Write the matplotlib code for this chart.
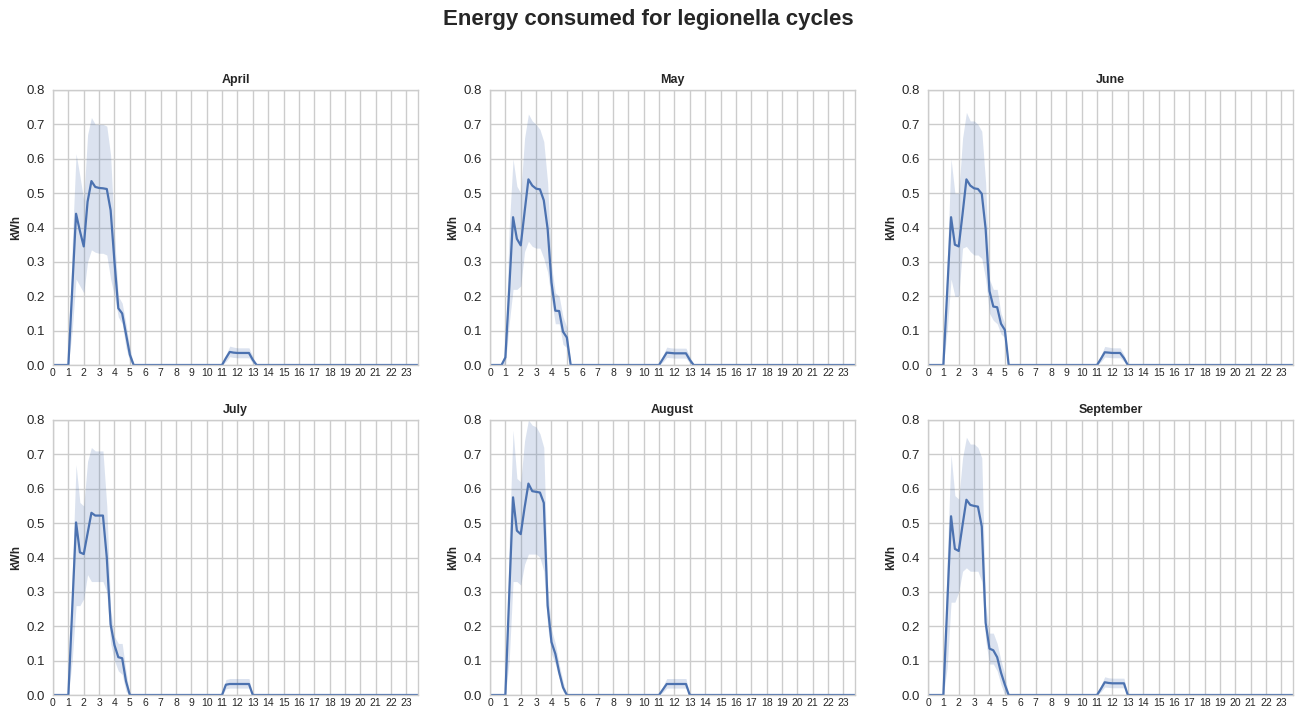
import numpy as np
import matplotlib
matplotlib.use("Agg")
import matplotlib.pyplot as plt
import seaborn as sns

sns.set_style("whitegrid")
plt.rcParams['font.family'] = ['Liberation Sans', 'DejaVu Sans']

months = ["April", "May", "June", "July", "August", "September"]
hour_ticks = list(range(24))
y_ticks = [0.0, 0.1, 0.2, 0.3, 0.4, 0.5, 0.6, 0.7, 0.8]
day_end = 23.75

morning_hours = [0.75, 1.0, 1.25, 1.5, 1.75, 2.0, 2.25, 2.5, 2.75, 3.0,
                 3.25, 3.5, 3.75, 4.0, 4.25, 4.5, 4.75, 5.0, 5.25]
noon_hours = [11.0, 11.25, 11.5, 11.75, 12.0, 12.25, 12.5, 12.75, 13.0, 13.25]

# mean energy (kWh) and confidence band, morning legionella cycle
april_mean = [0, 0, 0.22, 0.44, 0.39, 0.345, 0.475, 0.535, 0.518, 0.515, 0.514, 0.512, 0.45, 0.30, 0.165, 0.15, 0.09, 0.03, 0]
april_lo   = [0, 0, 0.10, 0.25, 0.23, 0.21, 0.30, 0.335, 0.328, 0.325, 0.325, 0.32, 0.25, 0.20, 0.14, 0.12, 0.05, 0.01, 0]
april_hi   = [0, 0, 0.35, 0.615, 0.55, 0.48, 0.67, 0.72, 0.70, 0.70, 0.70, 0.695, 0.61, 0.38, 0.20, 0.18, 0.12, 0.05, 0]

may_mean = [0, 0.022, 0.22, 0.43, 0.367, 0.348, 0.445, 0.54, 0.522, 0.513, 0.511, 0.479, 0.396, 0.24, 0.158, 0.157, 0.097, 0.08, 0]
may_lo   = [0, 0, 0.12, 0.22, 0.22, 0.23, 0.33, 0.36, 0.345, 0.34, 0.34, 0.31, 0.27, 0.19, 0.12, 0.12, 0.06, 0.05, 0]
may_hi   = [0, 0.04, 0.40, 0.60, 0.52, 0.50, 0.66, 0.73, 0.71, 0.70, 0.685, 0.65, 0.53, 0.29, 0.21, 0.20, 0.14, 0.11, 0]

june_mean = [0, 0, 0.215, 0.43, 0.35, 0.345, 0.44, 0.54, 0.522, 0.514, 0.512, 0.498, 0.396, 0.215, 0.17, 0.168, 0.12, 0.102, 0]
june_lo   = [0, 0, 0.10, 0.25, 0.20, 0.20, 0.34, 0.345, 0.33, 0.32, 0.32, 0.31, 0.25, 0.15, 0.13, 0.12, 0.09, 0.08, 0]
june_hi   = [0, 0, 0.30, 0.60, 0.50, 0.50, 0.66, 0.735, 0.71, 0.71, 0.70, 0.68, 0.53, 0.25, 0.22, 0.22, 0.15, 0.12, 0]

july_mean = [0, 0, 0.25, 0.502, 0.415, 0.41, 0.47, 0.53, 0.522, 0.522, 0.522, 0.40, 0.205, 0.145, 0.11, 0.107, 0.04, 0, 0]
july_lo   = [0, 0, 0.10, 0.26, 0.26, 0.28, 0.35, 0.33, 0.33, 0.33, 0.33, 0.30, 0.15, 0.10, 0.07, 0.06, 0.01, 0, 0]
july_hi   = [0, 0, 0.35, 0.67, 0.56, 0.55, 0.68, 0.72, 0.71, 0.71, 0.71, 0.55, 0.25, 0.17, 0.15, 0.15, 0.07, 0, 0]

august_mean = [0, 0, 0.29, 0.575, 0.478, 0.468, 0.545, 0.615, 0.593, 0.591, 0.589, 0.559, 0.26, 0.154, 0.12, 0.066, 0.022, 0, 0]
august_lo   = [0, 0, 0.10, 0.33, 0.33, 0.32, 0.38, 0.41, 0.41, 0.41, 0.40, 0.36, 0.20, 0.12, 0.09, 0.05, 0.01, 0, 0]
august_hi   = [0, 0, 0.45, 0.77, 0.63, 0.62, 0.74, 0.80, 0.785, 0.78, 0.76, 0.72, 0.32, 0.19, 0.15, 0.09, 0.04, 0, 0]

september_mean = [0, 0, 0.26, 0.52, 0.425, 0.419, 0.495, 0.568, 0.553, 0.55, 0.548, 0.49, 0.21, 0.135, 0.13, 0.11, 0.065, 0.03, 0]
september_lo   = [0, 0, 0.08, 0.27, 0.27, 0.30, 0.36, 0.37, 0.36, 0.36, 0.36, 0.33, 0.16, 0.09, 0.09, 0.07, 0.03, 0.0, 0]
september_hi   = [0, 0, 0.40, 0.70, 0.58, 0.57, 0.69, 0.75, 0.73, 0.73, 0.72, 0.69, 0.26, 0.18, 0.18, 0.15, 0.10, 0.06, 0]

# midday cycle
april_noon_mean = [0, 0.02, 0.038, 0.036, 0.035, 0.035, 0.035, 0.035, 0.015, 0]
may_noon_mean   = [0, 0.018, 0.036, 0.035, 0.034, 0.034, 0.034, 0.034, 0.015, 0]
june_noon_mean  = [0, 0.018, 0.037, 0.036, 0.035, 0.035, 0.035, 0.02, 0, 0]
july_noon_mean  = [0, 0.03, 0.032, 0.032, 0.032, 0.032, 0.032, 0.032, 0, 0]
august_noon_mean = [0, 0.016, 0.032, 0.032, 0.032, 0.032, 0.032, 0.032, 0, 0]
september_noon_mean = [0, 0.018, 0.037, 0.035, 0.034, 0.034, 0.034, 0.034, 0, 0]

april_noon_lo = [0, 0.01, 0.024, 0.022, 0.021, 0.021, 0.021, 0.021, 0.005, 0]
may_noon_lo   = [0, 0.009, 0.022, 0.021, 0.02, 0.02, 0.02, 0.02, 0.005, 0]
june_noon_lo  = [0, 0.009, 0.023, 0.022, 0.021, 0.021, 0.021, 0.01, 0, 0]
july_noon_lo  = [0, 0.018, 0.02, 0.02, 0.02, 0.02, 0.02, 0.02, 0, 0]
august_noon_lo = [0, 0.008, 0.02, 0.02, 0.02, 0.02, 0.02, 0.02, 0, 0]
september_noon_lo = [0, 0.009, 0.023, 0.022, 0.021, 0.021, 0.021, 0.021, 0, 0]

april_noon_hi = [0, 0.03, 0.055, 0.052, 0.05, 0.05, 0.05, 0.05, 0.025, 0]
may_noon_hi   = [0, 0.028, 0.052, 0.05, 0.049, 0.049, 0.049, 0.049, 0.025, 0]
june_noon_hi  = [0, 0.028, 0.054, 0.052, 0.05, 0.05, 0.05, 0.03, 0, 0]
july_noon_hi  = [0, 0.045, 0.048, 0.048, 0.048, 0.048, 0.048, 0.048, 0, 0]
august_noon_hi = [0, 0.025, 0.048, 0.048, 0.048, 0.048, 0.048, 0.048, 0, 0]
september_noon_hi = [0, 0.028, 0.053, 0.05, 0.049, 0.049, 0.049, 0.049, 0, 0]

series = {
    "April": (april_mean, april_lo, april_hi, april_noon_mean, april_noon_lo, april_noon_hi),
    "May": (may_mean, may_lo, may_hi, may_noon_mean, may_noon_lo, may_noon_hi),
    "June": (june_mean, june_lo, june_hi, june_noon_mean, june_noon_lo, june_noon_hi),
    "July": (july_mean, july_lo, july_hi, july_noon_mean, july_noon_lo, july_noon_hi),
    "August": (august_mean, august_lo, august_hi, august_noon_mean, august_noon_lo, august_noon_hi),
    "September": (september_mean, september_lo, september_hi, september_noon_mean, september_noon_lo, september_noon_hi),
}

# 15-minute time axis over the day; zero outside the cycles
times = np.arange(0, day_end + 0.001, 0.25)

def full_day(morning_vals, noon_vals):
    out = np.zeros(len(times))
    for h, v in zip(morning_hours, morning_vals):
        out[int(round(h * 4))] = v
    for h, v in zip(noon_hours, noon_vals):
        out[int(round(h * 4))] = v
    return out

color = "#4C72B0"
fig = plt.figure(figsize=(12.96, 7.15), dpi=100)

W, H = 1296, 715
lefts = [53, 490, 928]
tops = [90, 420]
aw, ah = 365, 275

for i, m in enumerate(months):
    r, c = divmod(i, 3)
    ax = fig.add_axes([lefts[c] / W, 1 - (tops[r] + ah) / H, aw / W, ah / H])
    mm, ml, mh, nm, nl, nh = series[m]
    mean = full_day(mm, nm)
    lo = full_day(ml, nl)
    hi = full_day(mh, nh)
    ax.fill_between(times, lo, hi, color=color, alpha=0.2, linewidth=0)
    ax.plot(times, mean, color=color, linewidth=1.6)
    ax.set_xlim(0, day_end)
    ax.set_ylim(0, 0.8)
    ax.set_xticks(hour_ticks)
    ax.set_xticklabels([str(h) for h in hour_ticks], fontsize=7.5, color="#262626")
    ax.set_yticks(y_ticks)
    ax.set_yticklabels([f"{v:.1f}" for v in y_ticks], fontsize=9.5, color="#262626")
    ax.tick_params(axis='both', length=0, pad=6)
    ax.tick_params(axis='x', pad=2)
    ax.grid(True, color="#cccccc", linewidth=1.0)
    for s in ax.spines.values():
        s.set_color("#cccccc")
        s.set_linewidth(1.0)
    ax.set_title(m, fontsize=9, fontweight="bold", color="#262626", pad=5)
    ax.set_ylabel("kWh", fontsize=8.5, fontweight="bold", color="#262626", labelpad=3)

fig.suptitle("Energy consumed for legionella cycles", fontsize=16, fontweight="bold",
             color="#262626", y=0.987, va="top")

fig.savefig("out.png", dpi=100)
